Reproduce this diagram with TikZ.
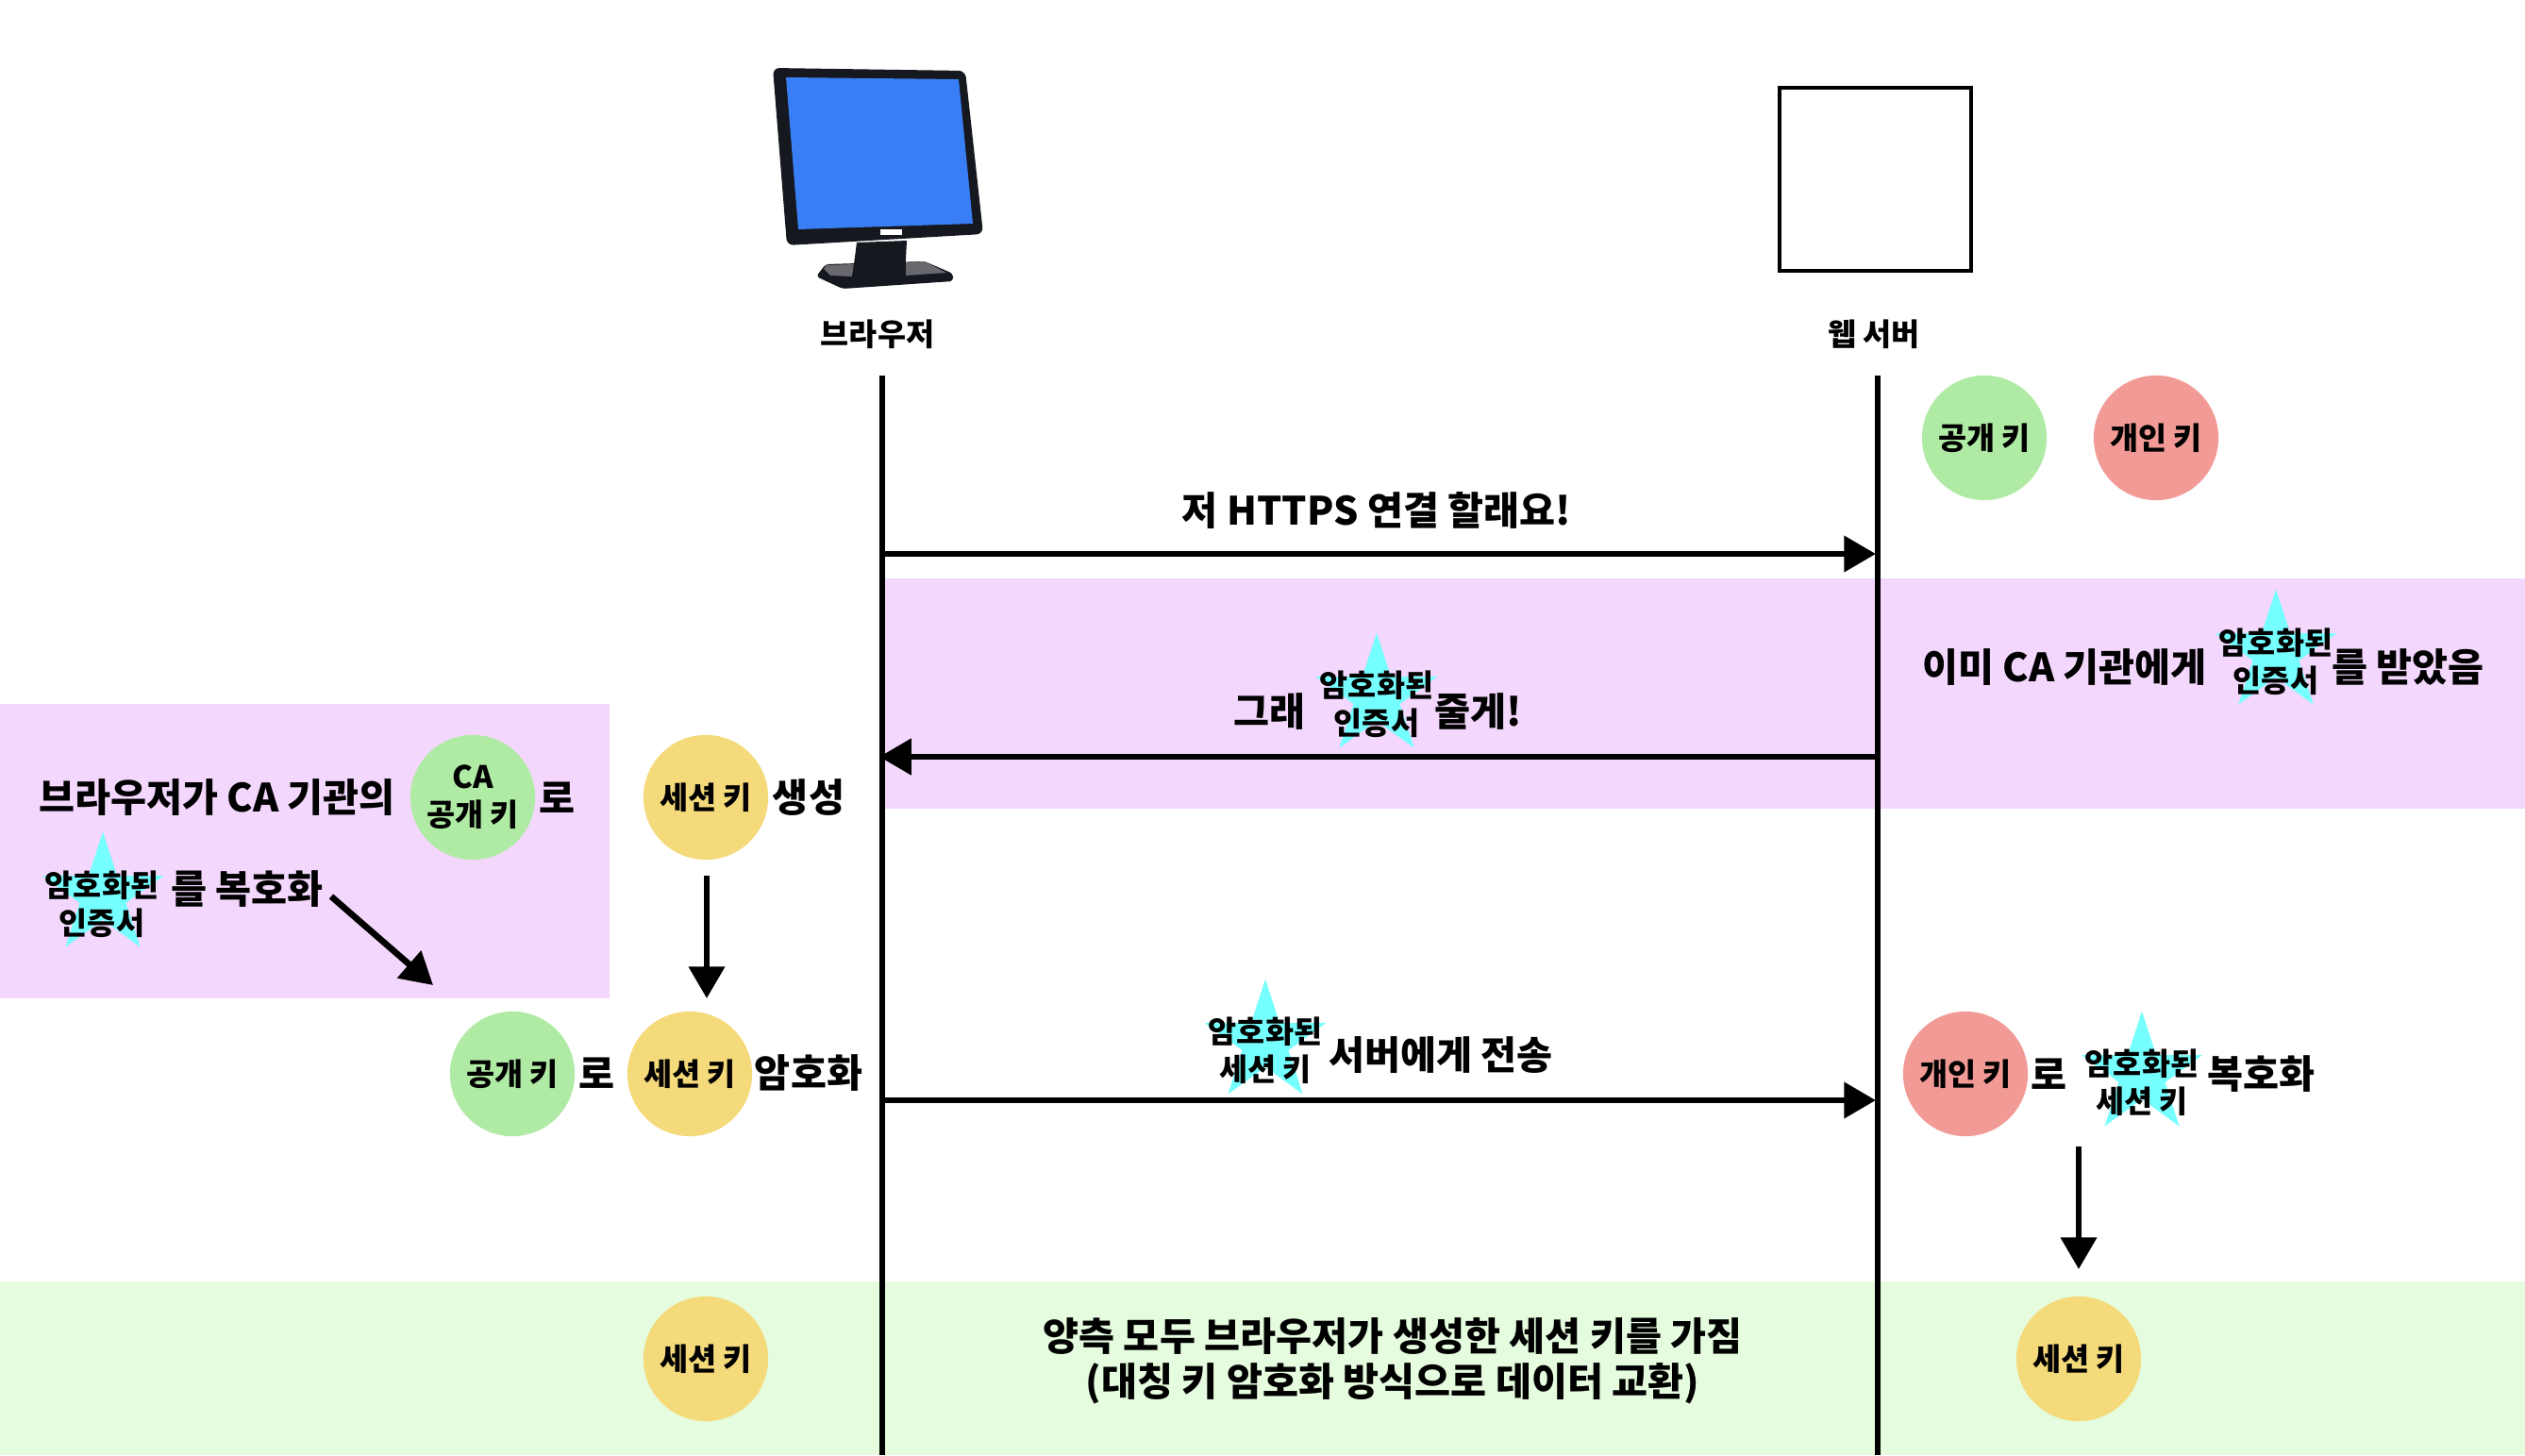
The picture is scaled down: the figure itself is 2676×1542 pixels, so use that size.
\documentclass[tikz,border=0pt]{standalone}
\usepackage{fontspec}
\setmainfont{Noto Sans CJK KR}
\usetikzlibrary{arrows.meta,shapes.geometric}
\definecolor{keygreen}{HTML}{B0EBA5}
\definecolor{keyyellow}{HTML}{F5DA7B}
\definecolor{keyred}{HTML}{F29B96}
\definecolor{bandpurple}{HTML}{F3D7FC}
\definecolor{bandgreen}{HTML}{E5FCDF}
\definecolor{starcyan}{HTML}{75FFFF}
\definecolor{scrblue}{HTML}{3A7EF5}
\definecolor{monblack}{HTML}{15181E}
\definecolor{mongray}{HTML}{68686E}
\newcommand{\fbody}{\fontsize{11.75}{11.4}\selectfont\bfseries}
\newcommand{\fbottom}{\fontsize{11.75}{13.7}\selectfont\bfseries}
\newcommand{\fsmall}{\fontsize{9.3}{11.3}\selectfont\bfseries}
\tikzset{
 x=0.01cm,y=-0.01cm,
 lbl/.style={inner sep=0pt,align=center,font=\fbody,text=black},
 keytxt/.style={circle,inner sep=0pt,minimum size=37.6pt,align=center,font=\fsmall,text=black},
 greenkey/.style={keytxt,fill=keygreen},
 yellowkey/.style={keytxt,fill=keyyellow},
 redkey/.style={keytxt,fill=keyred},
 certstar/.style={star,star points=5,star point ratio=2.618,fill=starcyan,inner sep=0pt,minimum size=38.3pt},
 startxt/.style={inner sep=0pt,align=center,font=\fsmall,text=black},
 lifeline/.style={line width=1.8pt},
 msg/.style={line width=1.9pt,-{Triangle[length=9.6pt,width=10.6pt]}},
}
\begin{document}
\begin{tikzpicture}
\useasboundingbox (0,0) rectangle (2676,1542);
\fill[white] (0,0) rectangle (2676,1542);
% bands
\fill[bandpurple] (935,613) rectangle (2676,857);
\fill[bandpurple] (0,746) rectangle (646,1058);
\fill[bandgreen] (0,1358) rectangle (2676,1542);
% monitor
\fill[monblack,rounded corners=1pt] (865,293) -- (875,280) -- (980,277) -- (1010,290) -- (1010,298) -- (893,306) -- cycle;
\fill[mongray] (873,285) -- (876,281) -- (905,280) -- (903,293) -- (880,292) -- cycle;
\fill[mongray] (960,278) -- (980,277) -- (1003,289) -- (960,292) -- cycle;
\fill[monblack] (908,257) -- (961,255) -- (959,293) -- (903,295) -- cycle;
\fill[monblack,rounded corners=2pt] (819,72) -- (1023,75) -- (1042,248) -- (834,260) -- cycle;
\fill[scrblue] (833,82) -- (1016,84) -- (1031,237) -- (846,243) -- cycle;
\fill[white] (933,243) -- (956,243) -- (956,249) -- (933,249) -- cycle;
% server box
\draw[line width=1pt] (1886,93) rectangle (2089,287);
% lifelines
\coordinate (bt) at (935,398); \coordinate (bb) at (935,1542);
\coordinate (st) at (1990,398); \coordinate (sb) at (1990,1542);
\draw[lifeline] (bt) -- (bb);
\draw[lifeline] (st) -- (sb);
\node[lbl,font=\fsmall] (lbrowser) at (930,354) {브라우저};
\node[lbl,font=\fsmall] (lserver) at (1986,354) {웹 서버};
% server keys
\node[greenkey] (kpub) at (2103,464) {공개 키};
\node[redkey] (kpriv) at (2285,464) {개인 키};
% message 1
\coordinate (m1a) at (935,587); \coordinate (m1b) at (1988,587);
\draw[msg] (m1a) -- (m1b);
\node[lbl] (t1) at (1459,541) {저 HTTPS 연결 할래요!};
% message 2
\coordinate (m2a) at (1990,802); \coordinate (m2b) at (932,802);
\draw[msg] (m2a) -- (m2b);
\node[lbl] (t2a) at (1345,754) {그래};
\node[certstar] (s1) at (1459,738) {};
\node[startxt] (s1t) at (1459,746) {암호화된\\인증서};
\node[lbl] (t2b) at (1567,754) {줄게!};
% right note
\node[lbl] (t3a) at (2188,707) {이미 CA 기관에게};
\node[certstar] (s2) at (2412,692) {};
\node[startxt] (s2t) at (2412,701) {암호화된\\인증서};
\node[lbl] (t3b) at (2552,707) {를 받았음};
% left note
\node[lbl] (t4a) at (230,845) {브라우저가 CA 기관의};
\node[greenkey] (kca) at (501,845) {CA\\공개 키};
\node[lbl] (t4b) at (590,845) {로};
\node[certstar] (s3) at (109,949) {};
\node[startxt] (s3t) at (108,958) {암호화된\\인증서};
\node[lbl] (t4c) at (262,942) {를 복호화};
\coordinate (d1) at (351,950); \coordinate (d2) at (459,1044);
\draw[msg] (d1) -- (d2);
% session key generation
\node[yellowkey] (ks1) at (748,845) {세션 키};
\node[lbl] (t5) at (857,845) {생성};
\coordinate (v1a) at (749,928); \coordinate (v1b) at (749,1058);
\draw[msg] (v1a) -- (v1b);
\node[greenkey] (kpub2) at (543,1138) {공개 키};
\node[lbl] (t6a) at (632,1137) {로};
\node[yellowkey] (ks2) at (731,1138) {세션 키};
\node[lbl] (t6b) at (857,1137) {암호화};
% message 3
\coordinate (m3a) at (935,1166); \coordinate (m3b) at (1988,1166);
\draw[msg] (m3a) -- (m3b);
\node[certstar] (s4) at (1341,1105) {};
\node[startxt] (s4t) at (1341,1113) {암호화된\\세션 키};
\node[lbl] (t7) at (1527,1118) {서버에게 전송};
% server decrypt
\node[redkey] (kpriv2) at (2083,1138) {개인 키};
\node[lbl] (t8a) at (2171,1138) {로};
\node[certstar] (s5) at (2270,1139) {};
\node[startxt] (s5t) at (2270,1147) {암호화된\\세션 키};
\node[lbl] (t8b) at (2396,1138) {복호화};
\coordinate (v2a) at (2203,1215); \coordinate (v2b) at (2203,1345);
\draw[msg] (v2a) -- (v2b);
% result
\node[yellowkey] (ks3) at (748,1440) {세션 키};
\node[yellowkey] (ks4) at (2203,1440) {세션 키};
\node[lbl,font=\fbottom] (t9) at (1476,1442) {양측 모두 브라우저가 생성한 세션 키를 가짐\\(대칭 키 암호화 방식으로 데이터 교환)};
\end{tikzpicture}
\end{document}
